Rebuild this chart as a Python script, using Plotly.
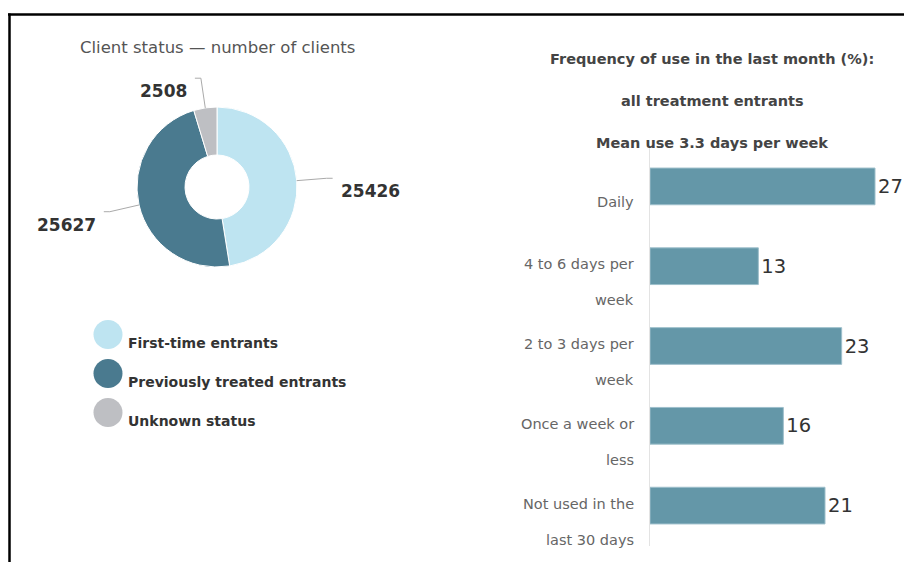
import math
import plotly.graph_objects as go

# ---------------- data ----------------
status_labels = ["First-time entrants", "Previously treated entrants", "Unknown status"]
status_values = [25426, 25627, 2508]
status_colors = ["#bee4f1", "#4a7a8f", "#bebfc3"]

freq_categories = ["Daily", "4 to 6 days per<br>week", "2 to 3 days per<br>week",
                   "Once a week or<br>less", "Not used in the<br>last 30 days"]
freq_values = [27, 13, 23, 16, 21]

pie_title = "Client status \u2014 number of clients"
bar_title_lines = ["Frequency of use in the last month (%):",
                   "all treatment entrants",
                   "Mean use 3.3 days per week"]

# ---------------- layout helpers ----------------
W, H = 904, 562
FONT = "DejaVu Sans"


def px(x):
    return x / W


def py(y):
    return 1 - y / H


# pie geometry (pixels)
cx, cy, r = 217, 187, 80

fig = go.Figure()

fig.add_trace(go.Pie(
    labels=status_labels, values=status_values,
    marker=dict(colors=status_colors, line=dict(color="white", width=1)),
    hole=0.4, sort=False, direction="clockwise", rotation=0,
    textinfo="none", showlegend=False,
    domain=dict(x=[px(cx - r), px(cx + r)], y=[py(cy + r), py(cy - r)]),
))

# custom legend (big circles)
fig.add_trace(go.Scatter(
    x=[8] * len(status_labels), y=list(range(len(status_labels))),
    mode="markers", marker=dict(size=29, color=status_colors),
    xaxis="x3", yaxis="y3", showlegend=False, hoverinfo="skip", cliponaxis=False,
))
fig.add_trace(go.Scatter(
    x=[28] * len(status_labels), y=[i + 0.26 for i in range(len(status_labels))],
    mode="text", text=status_labels, textposition="middle right",
    textfont=dict(family=FONT, size=14, color="#333333", weight="bold"),
    xaxis="x3", yaxis="y3", showlegend=False, hoverinfo="skip", cliponaxis=False,
))

# bars
fig.add_trace(go.Bar(
    x=freq_values, y=list(range(len(freq_categories))), orientation="h",
    marker=dict(color="#6497a8", line=dict(color="#9dbfcb", width=1)),
    text=freq_values, textposition="outside", cliponaxis=False,
    outsidetextfont=dict(family=FONT, size=19.5, color="#333333"),
    xaxis="x2", yaxis="y2", showlegend=False,
))

annotations = []
shapes = []

# pie data labels with connectors
total = sum(status_values)
cum = 0.0
for v in status_values:
    frac = v / total
    th = (cum + frac / 2) * 2 * math.pi
    cum += frac
    s, c = math.sin(th), math.cos(th)
    side = 1 if s >= 0 else -1
    x0, y0 = cx + r * s, cy - r * c
    x1, y1 = cx + (r + 30) * s, cy - (r + 30) * c
    x2 = x1 + side * 6
    shapes.append(dict(type="path", xref="paper", yref="paper",
                       path=f"M {px(x0)},{py(y0)} L {px(x1)},{py(y1)} L {px(x2)},{py(y1)}",
                       line=dict(color="#aaaaaa", width=1)))
    annotations.append(dict(x=px(x2 + side * 6), y=py(y1), xref="paper", yref="paper",
                            text=f"{v}", showarrow=False,
                            xanchor="left" if side > 0 else "right", yanchor="middle",
                            yshift=-13,
                            font=dict(family=FONT, size=17, color="#333333", weight="bold")))

# titles
annotations.append(dict(x=px(217), y=py(48), xref="paper", yref="paper", text=pie_title,
                        showarrow=False, xanchor="center", yanchor="middle",
                        font=dict(family=FONT, size=16.5, color="#555555")))
for i, t in enumerate(bar_title_lines):
    annotations.append(dict(x=px(712), y=py(59 + i * 42), xref="paper", yref="paper", text=t,
                            showarrow=False, xanchor="center", yanchor="middle",
                            font=dict(family=FONT, size=14.5, color="#444444", weight="bold")))

# category labels (two-line, wide spacing)
for idx, cat in enumerate(freq_categories):
    lines = cat.split("<br>")
    n = len(lines)
    for j, ln in enumerate(lines):
        off = 16 + (j - (n - 1) / 2) * 36
        annotations.append(dict(x=px(636), y=idx, xref="paper", yref="y2", text=ln,
                                showarrow=False, xanchor="right", yanchor="middle",
                                yshift=-off,
                                font=dict(family=FONT, size=14.5, color="#666666")))

# frame lines
shapes.append(dict(type="line", xref="paper", yref="paper", x0=px(8), x1=1,
                   y0=py(14.5), y1=py(14.5), line=dict(color="black", width=2.5)))
shapes.append(dict(type="line", xref="paper", yref="paper", x0=px(9.5), x1=px(9.5),
                   y0=py(13.5), y1=0, line=dict(color="black", width=2.5)))

fig.update_layout(
    width=W, height=H, margin=dict(l=0, r=0, t=0, b=0),
    paper_bgcolor="white", plot_bgcolor="white",
    font=dict(family=FONT),
    bargap=0.54,
    xaxis2=dict(domain=[px(650), px(900)], range=[0, 30], visible=False, anchor="y2"),
    yaxis2=dict(domain=[py(545.5), py(146.5)], range=[len(freq_categories) - 0.5, -0.5],
                anchor="x2", showticklabels=False, showgrid=False, zeroline=False,
                showline=True, linecolor="#e3e3e3", linewidth=1, ticks=""),
    xaxis3=dict(domain=[px(100), px(400)], range=[0, 300], visible=False, anchor="y3"),
    yaxis3=dict(domain=[py(432), py(315)], range=[2.5, -0.5], visible=False, anchor="x3"),
    annotations=annotations, shapes=shapes,
)

fig.write_html("out.html", config={"displayModeBar": False},
               post_script="document.body.style.margin='0px';document.body.style.overflow='hidden';")
